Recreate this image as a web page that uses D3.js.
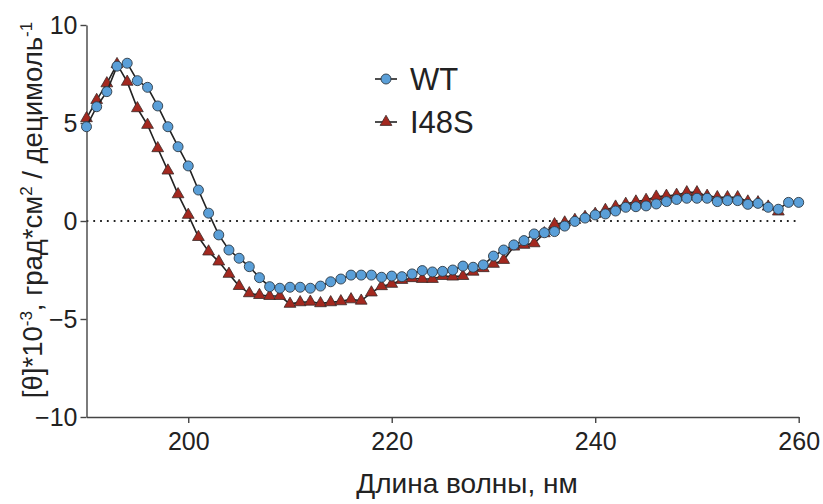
<!DOCTYPE html>
<html>
<head>
<meta charset="utf-8">
<script src="https://cdn.jsdelivr.net/npm/d3@7"></script>
<style>
  body { margin: 0; background: #fff; }
  text { font-family: "Liberation Sans", Arial, sans-serif; fill: #222; }
</style>
</head>
<body>
<svg></svg>
<script>
const size = {w: 823, h: 504};
const plot = {l: 86.5, r: 798.7, t: 25, b: 417};

// wavelength, nm
const wavelengthsWT = d3.range(190, 261);
const wavelengthsI48S = d3.range(190, 259);

// [θ]*10^-3
const valuesWT = [
  4.81, 5.83, 6.6, 7.9, 8.05, 7.16, 6.82, 5.87, 4.81, 3.79,
  2.81, 1.58, 0.4, -0.71, -1.48, -1.9, -2.33, -2.89, -3.35, -3.43,
  -3.38, -3.38, -3.43, -3.32, -3.1, -2.96, -2.76, -2.76, -2.76, -2.87,
  -2.81, -2.84, -2.7, -2.53, -2.6, -2.57, -2.5, -2.3, -2.36, -2.24,
  -1.79, -1.48, -1.22, -1.0, -0.66, -0.6, -0.54, -0.26, -0.02, 0.15,
  0.31, 0.36, 0.51, 0.7, 0.73, 0.77, 0.87, 0.99, 1.1, 1.16,
  1.16, 1.16, 0.99, 1.04, 1.04, 0.85, 0.9, 0.7, 0.6, 0.95,
  0.95
];
const valuesI48S = [
  5.24, 6.17, 7.02, 8.0, 7.1, 5.75, 4.9, 3.71, 2.57, 1.36,
  0.31, -0.82, -1.56, -2.07, -2.7, -3.32, -3.69, -3.78, -3.83, -3.83,
  -4.23, -4.15, -4.12, -4.2, -4.15, -4.1, -4.0, -4.07, -3.65, -3.33,
  -3.21, -3.01, -2.92, -2.96, -2.96, -2.81, -2.84, -2.81, -2.59, -2.41,
  -2.19, -1.99, -1.31, -1.22, -1.14, -0.63, -0.17, -0.08, 0.05, 0.2,
  0.36, 0.56, 0.73, 0.87, 0.99, 1.07, 1.24, 1.28, 1.33, 1.46,
  1.46, 1.28, 1.21, 1.21, 1.21, 0.99, 0.95, 0.73, 0.48
];

const xTicks = [200, 220, 240, 260];
const yTicks = [-10, -5, 0, 5, 10];
const seriesNames = ['WT', 'I48S'];

const svg = d3.select('svg')
    .attr('width', size.w)
    .attr('height', size.h);

const x = d3.scaleLinear().domain([190, 260]).range([plot.l, plot.r]);
const y = d3.scaleLinear().domain([-10, 10]).range([plot.b, plot.t]);

const wt = wavelengthsWT.map((d, i) => ({x: d, y: valuesWT[i]}));
const mut = wavelengthsI48S.map((d, i) => ({x: d, y: valuesI48S[i]}));

// zero line
svg.append('line')
    .attr('x1', x(190)).attr('x2', x(260))
    .attr('y1', y(0)).attr('y2', y(0))
    .attr('stroke', '#222')
    .attr('stroke-width', 1.8)
    .attr('stroke-dasharray', '1.8,5');

// axes
const xAxis = svg.append('g')
    .attr('transform', `translate(0,${plot.b})`)
    .call(d3.axisBottom(x).tickValues(xTicks).tickSize(6).tickPadding(9).tickSizeOuter(0));
const yAxis = svg.append('g')
    .attr('transform', `translate(${plot.l},0)`)
    .call(d3.axisLeft(y).tickValues(yTicks).tickSize(6).tickPadding(3).tickSizeOuter(0));

[xAxis, yAxis].forEach(g => {
    g.select('.domain').attr('stroke', '#444').attr('stroke-width', 1.4);
    g.selectAll('.tick line').attr('stroke', '#444').attr('stroke-width', 1.4);
    g.selectAll('.tick text')
        .style('font-family', '"Liberation Sans", Arial, sans-serif')
        .style('font-size', '25px')
        .attr('fill', '#222');
});
yAxis.selectAll('.tick text').attr('dy', '0.35em');

const line = d3.line().x(d => x(d.x)).y(d => y(d.y));
const tri = d3.symbol().type(d3.symbolTriangle).size(60);

// I48S
svg.append('path')
    .datum(mut)
    .attr('d', line)
    .attr('fill', 'none')
    .attr('stroke', '#222')
    .attr('stroke-width', 1.6);
svg.append('g').selectAll('path')
    .data(mut)
    .join('path')
    .attr('d', tri)
    .attr('transform', d => `translate(${x(d.x)},${y(d.y)})`)
    .attr('fill', '#a3281f')
    .attr('stroke', '#3a2a28')
    .attr('stroke-width', 0.8);

// WT
svg.append('path')
    .datum(wt)
    .attr('d', line)
    .attr('fill', 'none')
    .attr('stroke', '#222')
    .attr('stroke-width', 1.6);
svg.append('g').selectAll('circle')
    .data(wt)
    .join('circle')
    .attr('cx', d => x(d.x))
    .attr('cy', d => y(d.y))
    .attr('r', 5)
    .attr('fill', '#5a9fd8')
    .attr('stroke', '#2f3a44')
    .attr('stroke-width', 0.9);

// legend
const legend = svg.append('g');
const rowsY = [79, 122];
seriesNames.forEach((name, i) => {
    const g = legend.append('g').attr('transform', `translate(0,${rowsY[i]})`);
    g.append('line')
        .attr('x1', 375).attr('x2', 397)
        .attr('stroke', '#222').attr('stroke-width', 1.6);
    if (i === 0) {
        g.append('circle').attr('cx', 386).attr('r', 5)
            .attr('fill', '#5a9fd8').attr('stroke', '#2f3a44').attr('stroke-width', 0.9);
    } else {
        g.append('path').attr('d', tri).attr('transform', 'translate(386,0)')
            .attr('fill', '#a3281f').attr('stroke', '#3a2a28').attr('stroke-width', 0.8);
    }
    g.append('text')
        .attr('x', 410)
        .attr('y', 11)
        .style('font-size', '31px')
        .text(name);
});

// axis titles
svg.append('text')
    .attr('x', 467)
    .attr('y', 493)
    .attr('text-anchor', 'middle')
    .style('font-size', '28px')
    .text('Длина волны, нм');

const yt = svg.append('text')
    .attr('transform', `translate(42,210) rotate(-90)`)
    .attr('text-anchor', 'middle')
    .style('font-size', '27.5px');
yt.append('tspan').text('[θ]*10');
yt.append('tspan').attr('dy', -10).style('font-size', '17px').text('-3');
yt.append('tspan').attr('dy', 10).text(', град*см');
yt.append('tspan').attr('dy', -10).style('font-size', '17px').text('2');
yt.append('tspan').attr('dy', 10).text(' / децимоль');
yt.append('tspan').attr('dy', -10).style('font-size', '17px').text('-1');
</script>
</body>
</html>
